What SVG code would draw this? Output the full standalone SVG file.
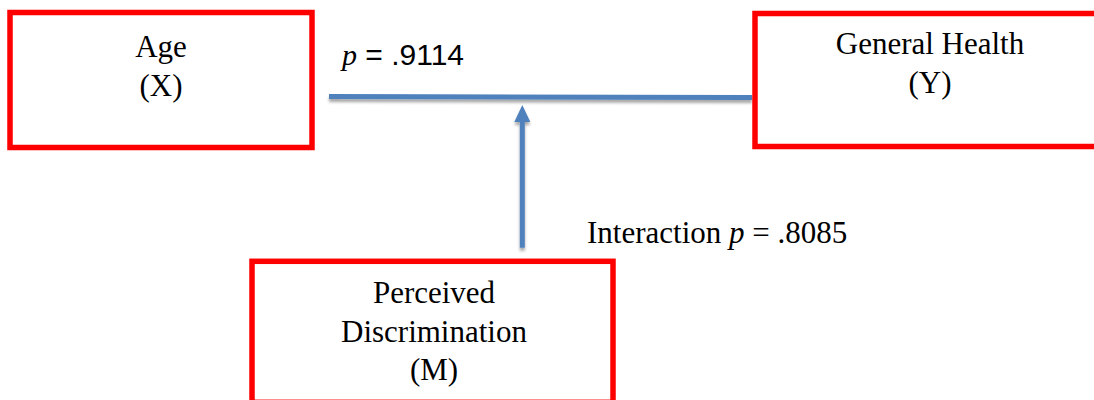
<svg xmlns="http://www.w3.org/2000/svg" width="1094" height="400" viewBox="0 0 1094 400">
<style>
.box{fill:#fff;stroke:#ff0000;stroke-width:5.5}
.lbl{font-family:"Liberation Serif","Times New Roman",serif;font-size:31px;fill:#000;text-anchor:middle}
.conn{stroke:#4f81bd;stroke-width:5;fill:none}
.stat{font-family:"Liberation Serif","Times New Roman",serif;font-size:31px;fill:#000}
.stat2{font-family:"Liberation Sans",Arial,sans-serif;font-size:30px;fill:#000}
</style>
<defs>
<filter id="sh" filterUnits="userSpaceOnUse" x="0" y="0" width="1094" height="400">
<feDropShadow dx="0" dy="3" stdDeviation="1.5" flood-color="#000" flood-opacity="0.35"/>
</filter>
<marker id="ah" markerUnits="userSpaceOnUse" markerWidth="17" markerHeight="16" viewBox="0 0 17 16" refX="4" refY="8" orient="auto">
<path d="M0,0 L17,8 L0,16 z" fill="#4f81bd"/>
</marker>
</defs>
<g id="connectors" filter="url(#sh)">
<line class="conn" x1="329" y1="96.5" x2="752" y2="97.5"/>
<line class="conn" x1="522.3" y1="247.7" x2="522.3" y2="118" marker-end="url(#ah)"/>
</g>
<g id="age">
<rect class="box" x="10" y="12.5" width="302" height="135"/>
<text class="lbl" x="161" y="57">Age</text>
<text class="lbl" x="161" y="95.5">(X)</text>
</g>
<g id="health">
<rect class="box" x="755" y="13.5" width="350" height="133"/>
<text class="lbl" x="930" y="54">General Health</text>
<text class="lbl" x="930" y="93">(Y)</text>
</g>
<g id="discrimination">
<rect class="box" x="252" y="261.3" width="361" height="141"/>
<text class="lbl" x="434" y="303">Perceived</text>
<text class="lbl" x="434" y="341.7">Discrimination</text>
<text class="lbl" x="434" y="380">(M)</text>
</g>
<g id="labels">
<text class="stat2" x="342" y="65"><tspan font-family="Liberation Serif, serif" font-style="italic">p</tspan> = .9114</text>
<text class="stat" x="587" y="242.5">Interaction <tspan font-style="italic">p</tspan> = .8085</text>
</g>
</svg>
